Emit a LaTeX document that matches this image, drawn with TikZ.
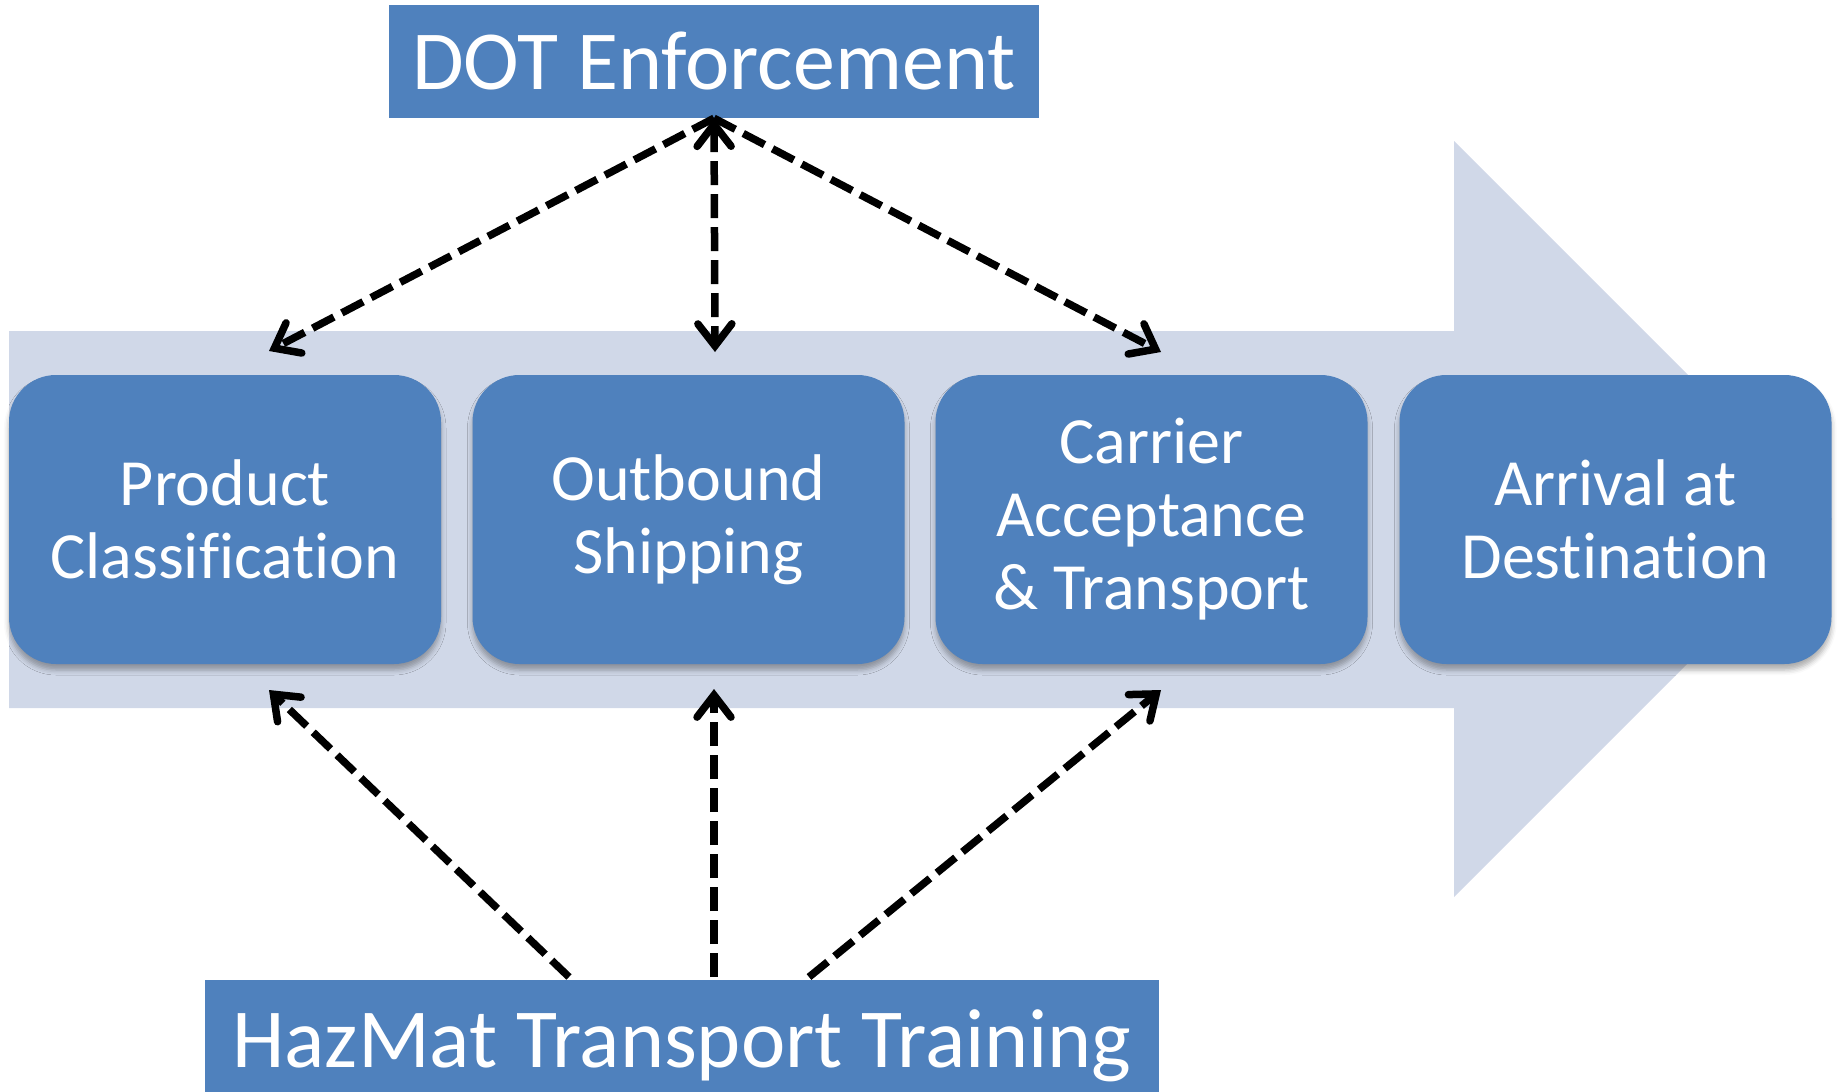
\documentclass[tikz,border=0pt]{standalone}
\usepackage{fontspec}
\setmainfont[Ligatures=NoCommon]{Carlito}
\usetikzlibrary{arrows.meta,shadows.blur}
\definecolor{boxblue}{HTML}{4F81BD}
\definecolor{arrowbg}{HTML}{D0D8E8}
\tikzset{
  stepbox/.style={fill=boxblue, draw=none, rounded corners=47pt, minimum width=432pt, minimum height=289pt, inner sep=0pt, align=center, text=white, font=\fontsize{66}{73}\selectfont,
    blur shadow={shadow xshift=0pt, shadow yshift=-6pt, shadow blur radius=5pt, shadow opacity=32}},
  titlebox/.style={fill=boxblue, draw=none, inner sep=0pt, text=white, font=\fontsize{84}{90}\selectfont},
  conn/.style={line width=7.5pt, dash pattern=on 24pt off 9pt, black},
  tip/.style={-{Straight Barb[length=22pt,width=34pt,line cap=round]}},
  bitip/.style={{Straight Barb[length=22pt,width=34pt,line cap=round]}-{Straight Barb[length=22pt,width=34pt,line cap=round]}}
}
\begin{document}
\begin{tikzpicture}[x=1pt,y=-1pt]
\useasboundingbox (0,0) rectangle (1839,1092);
% big background arrow
\fill[arrowbg] (9,331) -- (1454,331) -- (1454,141) -- (1832,519) -- (1454,897) -- (1454,708) -- (9,708) -- cycle;
% process boxes
\node[stepbox] (b1) at (225,519.5) {Product\\Classification};
\node[stepbox] (b2) at (688.5,519.5) {Outbound\\Shipping};
\node[stepbox] (b3) at (1151.5,519.5) {Carrier\\Acceptance\\\& Transport};
\node[stepbox] (b4) at (1615.5,519.5) {Arrival at\\Destination};
% title boxes
\node[titlebox, minimum width=650pt, minimum height=113pt] (dot) at (714,61.5) {DOT Enforcement};
\node[titlebox, minimum width=954pt, minimum height=112pt] (haz) at (682,1036) {\raisebox{-10pt}[\height][\depth]{HazMat Transport Training}};
% connector end points
\coordinate (dl) at (269,351);
\coordinate (dm) at (715,352);
\coordinate (dr) at (1161,352);
\coordinate (hl) at (269,690);
\coordinate (hm) at (714,689);
\coordinate (hr) at (1161,690);
\coordinate (sl) at (569,977);
\coordinate (sm) at (714,977);
\coordinate (sr) at (809,977);
% connectors
\draw[conn, tip] (dot.south) -- (dl);
\draw[conn, bitip] (dot.south) -- (dm);
\draw[conn, tip] (dot.south) -- (dr);
\draw[conn, tip] (sl) -- (hl);
\draw[conn, tip] (sm) -- (hm);
\draw[conn, tip] (sr) -- (hr);
\end{tikzpicture}
\end{document}
